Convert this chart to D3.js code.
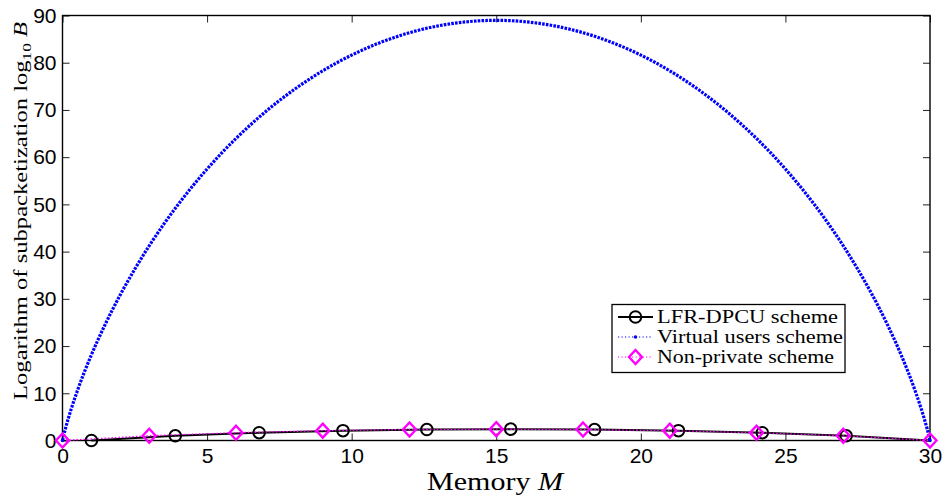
<!DOCTYPE html>
<html>
<head>
<meta charset="utf-8">
<script src="https://cdn.jsdelivr.net/npm/d3@7/dist/d3.min.js"></script>
<style>
  html, body { margin: 0; padding: 0; background: #fff; }
  svg { display: block; }
</style>
</head>
<body>
<svg id="chart" width="945" height="498"></svg>
<script>
// ---------------- data ----------------
const xTicks = [0, 5, 10, 15, 20, 25, 30];
const yTicks = [0, 10, 20, 30, 40, 50, 60, 70, 80, 90];

// LFR-DPCU scheme
const lfrM = [1, 3.9, 6.8, 9.7, 12.6, 15.5, 18.4, 21.3, 24.2, 27.1, 30];
const lfrB = [0, 1.0, 1.65, 2.08, 2.32, 2.40, 2.32, 2.08, 1.65, 1.0, 0];

// Virtual users scheme
const vuM = [0, 0.1, 0.2, 0.3, 0.5, 1, 1.5, 2, 2.5, 3, 3.5, 4, 4.5, 5, 5.5, 6, 6.5, 7, 7.5, 8, 8.5, 9, 9.5,
  10, 10.5, 11, 11.5, 12, 12.5, 13, 13.5, 14, 14.5, 15, 15.5, 16, 16.5, 17, 17.5, 18, 18.5, 19, 19.5,
  20, 20.5, 21, 21.5, 22, 22.5, 23, 23.5, 24, 24.5, 25, 25.5, 26, 26.5, 27, 27.5, 28, 28.5, 29, 29.5,
  29.7, 29.8, 29.9, 30];
const vuB = [0, 2.48, 4.65, 6.65, 10.29, 18.15, 24.89, 30.88, 36.29, 41.24, 45.79, 49.99, 53.88, 57.49,
  60.85, 63.96, 66.84, 69.52, 71.99, 74.27, 76.37, 78.29, 80.04, 81.62, 83.04, 84.30, 85.40, 86.36,
  87.16, 87.81, 88.32, 88.68, 88.90, 88.97, 88.90, 88.68, 88.32, 87.81, 87.16, 86.36, 85.40, 84.30,
  83.04, 81.62, 80.04, 78.29, 76.37, 74.27, 71.99, 69.52, 66.84, 63.96, 60.85, 57.49, 53.88, 49.99,
  45.79, 41.24, 36.29, 30.88, 24.89, 18.15, 10.29, 6.65, 4.65, 2.48, 0];

// Non-private scheme
const npM = [0, 3, 6, 9, 12, 15, 18, 21, 24, 27, 30];
const npB = [0, 1.0, 1.65, 2.08, 2.32, 2.40, 2.32, 2.08, 1.65, 1.0, 0];

const legendLabels = ["LFR-DPCU scheme", "Virtual users scheme", "Non-private scheme"];
const legendWidths = [181, 186, 177];

// ---------------- layout ----------------
const svg = d3.select("#chart");
const L = 62.5, R = 930, T = 15.5, B = 440.5;
const x = d3.scaleLinear().domain([0, 30]).range([L, R]);
const y = d3.scaleLinear().domain([0, 90]).range([B, T]);

const tickFont = "'Liberation Sans', Arial, Helvetica, sans-serif";
const serif = "'Liberation Serif', 'Times New Roman', serif";

function styleAxis(g) {
  g.select(".domain").remove();
  g.selectAll(".tick line").attr("stroke", "#222").attr("stroke-width", 1);
  g.selectAll(".tick text").attr("fill", "#000").style("font-family", tickFont).style("font-size", "21px");
}
svg.append("g").attr("transform", `translate(0,${B})`)
  .call(d3.axisBottom(x).tickValues(xTicks).tickSize(-7).tickPadding(8).tickFormat(d3.format("d")))
  .call(styleAxis);
svg.append("g").attr("transform", `translate(0,${T})`)
  .call(d3.axisTop(x).tickValues(xTicks).tickSize(-7).tickFormat(""))
  .call(styleAxis);
svg.append("g").attr("transform", `translate(${L},0)`)
  .call(d3.axisLeft(y).tickValues(yTicks).tickSize(-7).tickPadding(6).tickFormat(d3.format("d")))
  .call(styleAxis);
svg.append("g").attr("transform", `translate(${R},0)`)
  .call(d3.axisRight(y).tickValues(yTicks).tickSize(-7).tickFormat(""))
  .call(styleAxis);

svg.append("rect").attr("x", L).attr("y", T).attr("width", R - L).attr("height", B - T)
  .attr("fill", "none").attr("stroke", "#000").attr("stroke-width", 1.4);

// ---------------- series ----------------
const line = d3.line().x(d => x(d[0])).y(d => y(d[1]));
const smooth = d3.line().x(d => x(d[0])).y(d => y(d[1])).curve(d3.curveMonotoneX);

const lfr = lfrM.map((m, i) => [m, lfrB[i]]);
const vu = vuM.map((m, i) => [m, vuB[i]]);
const np = npM.map((m, i) => [m, npB[i]]);

svg.append("path").datum(lfr).attr("d", line)
  .attr("fill", "none").attr("stroke", "#000").attr("stroke-width", 2);

svg.append("path").datum(vu).attr("d", smooth)
  .attr("fill", "none").attr("stroke", "#0000ff").attr("stroke-width", 3.2)
  .attr("stroke-dasharray", "2.6,1.2");

svg.append("path").datum(np).attr("d", line)
  .attr("fill", "none").attr("stroke", "#ff00ff").attr("stroke-width", 1.3)
  .attr("stroke-dasharray", "1.5,2");

svg.append("g").selectAll("circle").data(lfr.slice(0, lfr.length - 1)).join("circle")
  .attr("cx", d => x(d[0])).attr("cy", d => y(d[1])).attr("r", 5.8)
  .attr("fill", "none").attr("stroke", "#000").attr("stroke-width", 2);

const dia = (cx, cy, w, h) => `M${cx},${cy - h}L${cx + w},${cy}L${cx},${cy + h}L${cx - w},${cy}Z`;
svg.append("g").selectAll("path").data(np).join("path")
  .attr("d", d => dia(x(d[0]), y(d[1]), 6.5, 7))
  .attr("fill", "none").attr("stroke", "#ff00ff").attr("stroke-width", 2.4);

svg.append("g").selectAll("circle").data([vu[0], vu[vu.length - 1]]).join("circle")
  .attr("cx", d => x(d[0])).attr("cy", d => y(d[1])).attr("r", 1.8).attr("fill", "#0000ff");

// ---------------- labels ----------------
const xl = svg.append("text").attr("x", 495).attr("y", 490).attr("text-anchor", "middle")
  .attr("textLength", 136).attr("lengthAdjust", "spacingAndGlyphs")
  .style("font-family", serif).style("font-size", "25px");
xl.append("tspan").text("Memory ");
xl.append("tspan").style("font-style", "italic").text("M");

const yl = svg.append("text").attr("transform", "translate(27,211) rotate(-90)")
  .attr("text-anchor", "middle").attr("textLength", 378).attr("lengthAdjust", "spacingAndGlyphs")
  .style("font-family", serif).style("font-size", "19px");
yl.append("tspan").text("Logarithm of subpacketization log");
yl.append("tspan").attr("baseline-shift", "-30%").style("font-size", "70%").text("10");
yl.append("tspan").text(" ");
yl.append("tspan").style("font-style", "italic").text("B");

// ---------------- legend ----------------
const lg = svg.append("g");
lg.append("rect").attr("x", 612).attr("y", 304.5).attr("width", 233).attr("height", 68)
  .attr("fill", "#fff").attr("stroke", "#000").attr("stroke-width", 1.3);
const rowY = [317, 337, 357];
const x1 = 618, x2 = 653, xm = 635.5;
lg.append("line").attr("x1", x1).attr("x2", x2).attr("y1", rowY[0]).attr("y2", rowY[0])
  .attr("stroke", "#000").attr("stroke-width", 2);
lg.append("circle").attr("cx", xm).attr("cy", rowY[0]).attr("r", 5.8)
  .attr("fill", "none").attr("stroke", "#000").attr("stroke-width", 2);
lg.append("line").attr("x1", x1).attr("x2", x2).attr("y1", rowY[1]).attr("y2", rowY[1])
  .attr("stroke", "#0000ff").attr("stroke-width", 1.2).attr("stroke-dasharray", "1.2,2.3");
lg.append("circle").attr("cx", xm).attr("cy", rowY[1]).attr("r", 1.8).attr("fill", "#0000ff");
lg.append("line").attr("x1", x1).attr("x2", x2).attr("y1", rowY[2]).attr("y2", rowY[2])
  .attr("stroke", "#ff00ff").attr("stroke-width", 1.2).attr("stroke-dasharray", "1.2,2.3");
lg.append("path").attr("d", dia(xm, rowY[2], 6.5, 7))
  .attr("fill", "none").attr("stroke", "#ff00ff").attr("stroke-width", 2.4);

lg.selectAll("text").data(legendLabels).join("text")
  .attr("x", 657).attr("y", (d, i) => rowY[i]).attr("dy", "0.33em")
  .attr("textLength", (d, i) => legendWidths[i]).attr("lengthAdjust", "spacingAndGlyphs")
  .style("font-family", serif).style("font-size", "18.5px").text(d => d);
</script>
</body>
</html>
